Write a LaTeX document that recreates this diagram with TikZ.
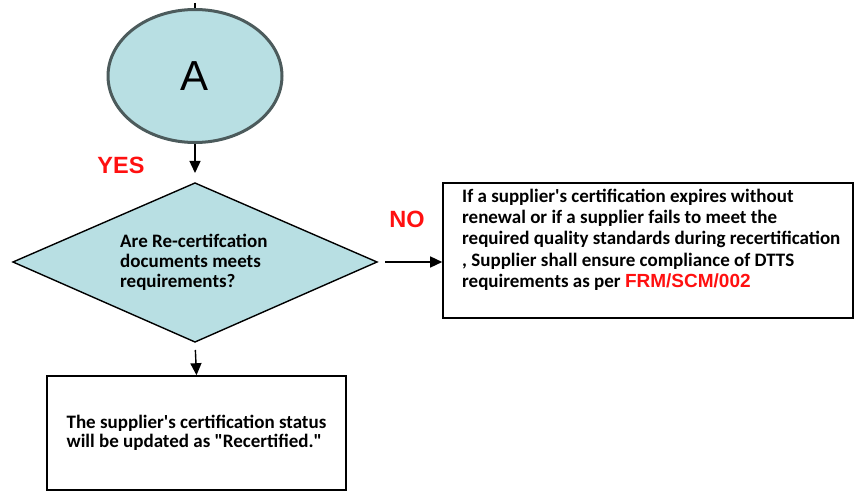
\documentclass[tikz,border=0pt]{standalone}
\usepackage{fontspec}
\setmainfont{Carlito}
\newfontfamily\arialfont{Liberation Sans}
\usetikzlibrary{shapes.geometric,arrows.meta}
\definecolor{paleblue}{HTML}{B8DFE3}
\definecolor{ringgray}{HTML}{4C5B5C}
\definecolor{flagred}{HTML}{FF1010}
\tikzset{
  conn/.style={draw=black, line width=1.4pt, -{Triangle[length=12pt,width=11pt]}},
  flag/.style={text=flagred, font=\arialfont\bfseries\fontsize{23.5}{25}\selectfont, inner sep=0pt},
  stepbox/.style={draw=black, line width=1.6pt, rectangle, inner sep=0pt},
  bodytext/.style={font=\bfseries\fontsize{19}{21.2}\selectfont, align=left, inner sep=0pt}
}
\newcommand\apos{\textquotesingle}
\begin{document}
\begin{tikzpicture}[x=1pt,y=-1pt]
\useasboundingbox (0,0) rectangle (855,492);
% connector A
\node[ellipse, draw=ringgray, line width=3pt, fill=paleblue,
      minimum width=174pt, minimum height=133pt, inner sep=0pt,
      font=\arialfont\fontsize{42}{44}\selectfont] (a) at (195,76) {A};
\coordinate (atop) at (195,3);
\draw[line width=1.2pt] (atop) -- (a.north);
% decision diamond
\coordinate (dtop) at (195,183);
\coordinate (dright) at (377,262);
\coordinate (dbottom) at (195,342);
\coordinate (dleft) at (13,262);
\draw[draw=black, line width=1.4pt, fill=paleblue, line join=miter]
  (dtop) -- (dright) -- (dbottom) -- (dleft) -- cycle;
\node[bodytext, font=\bfseries\fontsize{19}{20}\selectfont, anchor=west] (dec) at (120,262)
  {Are Re-certifcation\\documents meets\\requirements?};
% outcomes
\node[stepbox, minimum width=410pt, minimum height=135pt] (nobox) at (648,250.5) {};
\node[bodytext, anchor=north west] (notext) at (462,189)
  {If a supplier\apos s certification expires without\\
   renewal or if a supplier fails to meet the\\
   required quality standards during recertification\\
   , Supplier shall ensure compliance of DTTS\\
   requirements as per {\arialfont\color{flagred}FRM/SCM/002}};
\node[stepbox, minimum width=299pt, minimum height=114pt, bodytext,
      font=\bfseries\fontsize{19}{18.5}\selectfont, align=left] (yesbox) at (196.5,433)
  {The supplier\apos s certification status\\will be updated as \textquotedbl Recertified.\textquotedbl};
% arrows
\draw[conn, shorten >=10pt] (a.south) -- (dtop);
\draw[conn, shorten <=8pt] (dright) -- (dright -| nobox.west);
\draw[conn, shorten <=8pt] (dbottom) -- (yesbox.north);
% branch labels
\node[flag] (yes) at (121,165) {YES};
\node[flag] (no) at (407,219) {NO};
\end{tikzpicture}
\end{document}
